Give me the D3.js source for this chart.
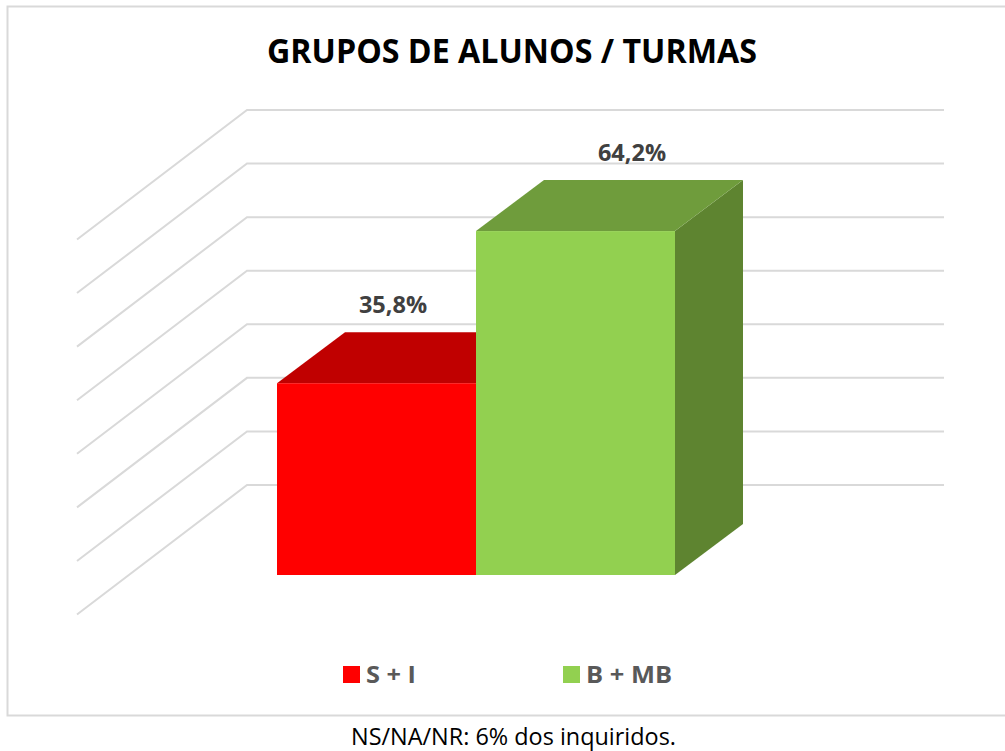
<!DOCTYPE html>
<html><head><meta charset="utf-8">
<script src="https://cdn.jsdelivr.net/npm/d3@7"></script>
<style>html,body{margin:0;padding:0;background:#fff}svg{display:block}text{font-family:"Open Sans",sans-serif}</style>
</head><body><svg id="c" width="1005" height="751"></svg>
<script>
const categories = ["S + I", "B + MB"];
const values = [35.8, 64.2];
const valueLabels = ["35,8%", "64,2%"];
const gridTicks = [0, 10, 20, 30, 40, 50, 60, 70];
const frontColors = ["#ff0000", "#92d050"];
const topColors = ["#c00000", "#6f9c3c"];
const sideColors = ["#a00000", "#5e8430"];
const title = "GRUPOS DE ALUNOS / TURMAS";
const note = "NS/NA/NR: 6% dos inquiridos.";

const svg = d3.select("#c");
svg.append("path").attr("d","M1005,6.5H7.5V715.5H1005").attr("fill","none").attr("stroke","#d9d9d9").attr("stroke-width",2);
const y = d3.scaleLinear().domain([0,70]).range([575,200]);
const x = d3.scaleBand().domain(categories).range([277,675]);
const dx = 68, dy = 51;
const wallX0 = 77, wallX1 = 247, wallX2 = 944, floorOff = 39.5, backOff = -90;
const g = svg.append("g").attr("fill","none").attr("stroke","#d9d9d9").attr("stroke-width",2);
gridTicks.forEach(t=>{
  g.append("path").attr("d",d3.line()([[wallX0,y(t)+floorOff],[wallX1,y(t)+backOff],[wallX2,y(t)+backOff]]));
});
categories.forEach((c,i)=>{
  const x0=x(c), x1=x0+x.bandwidth(), yt=y(values[i]), yb=y(0);
  svg.append("path").attr("fill",sideColors[i]).attr("d",d3.line()([[x1,yt],[x1+dx,yt-dy],[x1+dx,yb-dy],[x1,yb]]));
  svg.append("path").attr("fill",topColors[i]).attr("d",d3.line()([[x0,yt],[x0+dx,yt-dy],[x1+dx,yt-dy],[x1,yt]]));
  svg.append("rect").attr("x",x0).attr("y",yt).attr("width",x1-x0).attr("height",yb-yt).attr("fill",frontColors[i]);
});
const lx=[393,632];
categories.forEach((c,i)=>{
  svg.append("text").attr("x",lx[i]).attr("y",y(values[i])-70).attr("text-anchor","middle")
    .attr("font-size",23.5).attr("font-weight",700).attr("fill","#404040").text(valueLabels[i]);
});
svg.append("text").attr("x",512).attr("y",63).attr("text-anchor","middle").attr("font-size",33.5).attr("font-weight",700).attr("fill","#000")
  .attr("textLength",490).attr("lengthAdjust","spacingAndGlyphs").text(title);
const legX=[343,563], legT=[366,586], legW=[50,86];
categories.forEach((c,i)=>{
  svg.append("rect").attr("x",legX[i]).attr("y",666).attr("width",17).attr("height",17).attr("fill",frontColors[i]);
  svg.append("text").attr("x",legT[i]).attr("y",683).attr("font-size",24).attr("font-weight",700).attr("fill","#595959")
    .attr("textLength",legW[i]).attr("lengthAdjust","spacingAndGlyphs").text(c);
});
svg.append("text").attr("x",513.5).attr("y",745).attr("text-anchor","middle").attr("font-size",23.4).attr("fill","#000")
  .attr("textLength",325).attr("lengthAdjust","spacingAndGlyphs").text(note);
</script></body></html>
